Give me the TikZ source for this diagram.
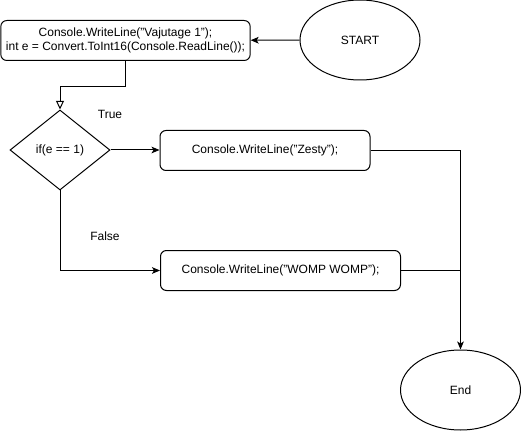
\documentclass[tikz,border=0pt]{standalone}
\usepackage{fontspec}
\setmainfont{Liberation Sans}
\usepackage{tikz}
\usetikzlibrary{arrows.meta}
\usetikzlibrary{shapes.geometric}

\begin{document}
\begin{tikzpicture}[x=0.75pt, y=-0.75pt, line width=0.75pt,
    font=\fontsize{9}{11}\selectfont,
    stmt/.style={draw, rounded corners=4.5pt, align=center, inner sep=1pt, minimum height=30pt},
    term/.style={draw, ellipse, minimum width=90pt, minimum height=60pt},
    cond/.style={draw, diamond, inner sep=0pt, minimum width=75pt, minimum height=60pt},
    flow/.style={-{Stealth[length=6pt, width=5pt, inset=1.5pt]}},
    flowopen/.style={-{Triangle[open, length=6.5pt, width=6pt]}}]
    \useasboundingbox (0,0) rectangle (521,431);

    \node[term] (start) at (360,40) {START};
    \node[stmt, minimum width=187pt] (read) at (125.5,40.5) {Console.WriteLine("Vajutage 1");\\int e = Convert.ToInt16(Console.ReadLine());};
    \node[cond] (check) at (60,150) {if(e == 1)};
    \node[stmt, minimum width=157.5pt] (zesty) at (265,150.5) {Console.WriteLine("Zesty");};
    \node[stmt, minimum width=180pt] (womp) at (280.5,270.5) {Console.WriteLine("WOMP WOMP");};
    \node[term] (finish) at (460.5,390) {End};

    \node (truelbl) at (110,114) {True};
    \node (falselbl) at (105,236) {False};

    \draw[flow] (start) -- (read);
    \draw[flowopen] (read.south) -- ++(0,26) -| (check.north);
    \draw[flow] (check.east) -- (zesty.west |- check.east);
    \draw[flow] (check.south) |- (womp.west);
    \draw[flow] (zesty.east) -| (finish.north);
    \draw (womp.east) -- (womp.east -| finish.north);
\end{tikzpicture}
\end{document}
